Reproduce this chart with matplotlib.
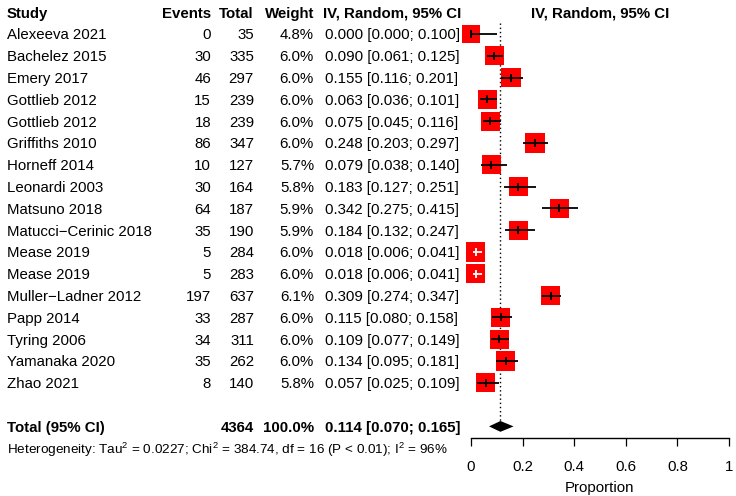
import matplotlib
matplotlib.use("Agg")
import matplotlib.pyplot as plt
from matplotlib import transforms
import numpy as np

plt.rcParams['font.family'] = ['Liberation Sans', 'DejaVu Sans']
plt.rcParams['mathtext.fontset'] = 'custom'
plt.rcParams['mathtext.rm'] = 'Liberation Sans'
plt.rcParams['mathtext.default'] = 'regular'

studies = ["Alexeeva 2021", "Bachelez 2015", "Emery 2017", "Gottlieb 2012", "Gottlieb 2012",
           "Griffiths 2010", "Horneff 2014", "Leonardi 2003", "Matsuno 2018",
           "Matucci\u2212Cerinic 2018", "Mease 2019", "Mease 2019", "Muller\u2212Ladner 2012",
           "Papp 2014", "Tyring 2006", "Yamanaka 2020", "Zhao 2021"]
events = [0, 30, 46, 15, 18, 86, 10, 30, 64, 35, 5, 5, 197, 33, 34, 35, 8]
totals = [35, 335, 297, 239, 239, 347, 127, 164, 187, 190, 284, 283, 637, 287, 311, 262, 140]
weights = [4.8, 6.0, 6.0, 6.0, 6.0, 6.0, 5.7, 5.8, 5.9, 5.9, 6.0, 6.0, 6.1, 6.0, 6.0, 6.0, 5.8]
est = [0.000, 0.090, 0.155, 0.063, 0.075, 0.248, 0.079, 0.183, 0.342, 0.184, 0.018, 0.018,
       0.309, 0.115, 0.109, 0.134, 0.057]
lower = [0.000, 0.061, 0.116, 0.036, 0.045, 0.203, 0.038, 0.127, 0.275, 0.132, 0.006, 0.006,
         0.274, 0.080, 0.077, 0.095, 0.025]
upper = [0.100, 0.125, 0.201, 0.101, 0.116, 0.297, 0.140, 0.251, 0.415, 0.247, 0.041, 0.041,
         0.347, 0.158, 0.149, 0.181, 0.109]
total_n = 4364
total_weight = 100.0
pooled = 0.114
pooled_lo = 0.070
pooled_hi = 0.165
hetero = "Heterogeneity: Tau$^2$ = 0.0227; Chi$^2$ = 384.74, df = 16 (P < 0.01); I$^2$ = 96%"
xticks = [0, 0.2, 0.4, 0.6, 0.8, 1]
xticklabels = ["0", "0.2", "0.4", "0.6", "0.8", "1"]

W, H = 736, 496
fig = plt.figure(figsize=(W / 100, H / 100), dpi=100)

row0_px, row_h = 34.0, 21.8
axis_px = 438.0
ax = fig.add_axes([471 / W, (H - axis_px) / H, 258 / W, axis_px / H])
ax.set_xlim(0, 1)
ax.set_ylim(1 + (axis_px - row0_px) / row_h, 1 - row0_px / row_h)

for s in ['top', 'left', 'right']:
    ax.spines[s].set_visible(False)
ax.spines['bottom'].set_linewidth(1.0)
ax.set_yticks([])
ax.set_xticks(xticks)
ax.set_xticklabels(xticklabels)
ax.tick_params(axis='x', direction='out', length=6, width=0.9, labelsize=10.8, pad=10)
ax.set_xlabel("Proportion", fontsize=10.8, labelpad=5)
ax.patch.set_visible(False)

fs = 10.8
base = transforms.blended_transform_factory(fig.transFigure, ax.transData)
tr = transforms.offset_copy(base, fig=fig, x=0, y=-5.4, units='dots')

def fx(px):
    return px / W

n = len(studies)
ys = np.arange(1, n + 1)

# header
hy = 0
ax.text(fx(7), hy, "Study", transform=tr, fontsize=fs, fontweight='bold', ha='left', va='baseline')
ax.text(fx(211), hy, "Events", transform=tr, fontsize=fs, fontweight='bold', ha='right', va='baseline')
ax.text(fx(254), hy, "Total", transform=tr, fontsize=fs, fontweight='bold', ha='right', va='baseline')
ax.text(fx(314), hy, "Weight", transform=tr, fontsize=fs, fontweight='bold', ha='right', va='baseline')
ax.text(fx(323), hy, "IV, Random, 95% CI", transform=tr, fontsize=fs, fontweight='bold', ha='left', va='baseline')
tr_ax = transforms.offset_copy(ax.transData, fig=fig, x=0, y=-5.4, units='dots')
ax.text(0.5, hy, "IV, Random, 95% CI", transform=tr_ax, fontsize=fs, fontweight='bold', ha='center', va='baseline')

for i in range(n):
    y = ys[i]
    ax.text(fx(7), y, studies[i], transform=tr, fontsize=fs, ha='left', va='baseline')
    ax.text(fx(211), y, f"{events[i]}", transform=tr, fontsize=fs, ha='right', va='baseline')
    ax.text(fx(254), y, f"{totals[i]}", transform=tr, fontsize=fs, ha='right', va='baseline')
    ax.text(fx(314), y, f"{weights[i]:.1f}%", transform=tr, fontsize=fs, ha='right', va='baseline')
    ax.text(fx(325), y, f"{est[i]:.3f} [{lower[i]:.3f}; {upper[i]:.3f}]", transform=tr,
            fontsize=fs, ha='left', va='baseline')

ty = n + 2
ax.text(fx(7), ty, "Total (95% CI)", transform=tr, fontsize=fs, fontweight='bold', ha='left', va='baseline')
ax.text(fx(254), ty, f"{total_n}", transform=tr, fontsize=fs, fontweight='bold', ha='right', va='baseline')
ax.text(fx(314), ty, f"{total_weight:.1f}%", transform=tr, fontsize=fs, fontweight='bold', ha='right', va='baseline')
ax.text(fx(325), ty, f"{pooled:.3f} [{pooled_lo:.3f}; {pooled_hi:.3f}]", transform=tr,
        fontsize=fs, fontweight='bold', ha='left', va='baseline')
ax.text(fx(7), n + 3, hetero, transform=tr, fontsize=9.7, ha='left', va='baseline')

# squares
side_px = 19.2 * np.sqrt(np.array(weights) / 6.0)
side_pt = side_px * 72 / 100
ax.scatter(est, ys, s=side_pt ** 2, marker='s', color='#ff0000', linewidths=0, zorder=3, clip_on=False)

px_per_x = 258.0
for i in range(n):
    ci_px = (upper[i] - lower[i]) * px_per_x
    inside = ci_px < 0.7 * side_px[i]
    c = 'white' if inside else 'black'
    ax.plot([lower[i], upper[i]], [ys[i], ys[i]], color=c, lw=1.3, zorder=4, clip_on=False,
            solid_capstyle='butt')
    ax.plot([est[i]], [ys[i]], marker='|', ms=6, mew=1.3, color=c, zorder=5, clip_on=False)

# pooled diamond and reference line
dh = 5.4 / row_h
ax.fill([pooled_lo, pooled, pooled_hi, pooled], [ty, ty - dh, ty, ty + dh], color='black', zorder=4,
        clip_on=False, lw=0)
ax.plot([pooled, pooled], [0.5, ty - dh], color='black', lw=1.0, ls=(0, (1, 2)), zorder=2)

fig.savefig("out.png", dpi=100)
